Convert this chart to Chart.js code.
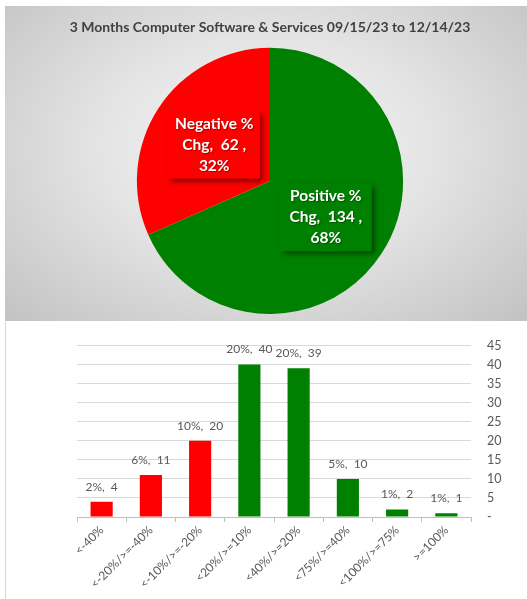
<!DOCTYPE html>
<html>
<head>
<meta charset="utf-8">
<script src="https://cdn.jsdelivr.net/npm/chart.js@4"></script>
<style>
  body { margin: 0; background: #ffffff; }
  #wrap { position: relative; width: 527px; height: 599px; overflow: hidden; }
  #top {
    position: absolute; left: 5px; top: 6px; width: 522px; height: 315px;
    background: radial-gradient(ellipse at 50% 45%, #f6f6f6 0%, #e4e4e4 45%, #c2c2c2 100%);
  }
  #bottom {
    position: absolute; left: 5px; top: 322px; width: 522px; height: 277px;
    background: #ffffff; border-left: 1px solid #d6d6d6; box-sizing: border-box;
  }
  canvas { display: block; }
</style>
</head>
<body>
<div id="wrap">
  <div id="top"><canvas id="torta" width="522" height="315"></canvas></div>
  <div id="bottom"><canvas id="barre" width="521" height="277"></canvas></div>
</div>
<script>
// dati della torta
const titolo = "3 Months Computer Software & Services 09/15/23 to 12/14/23";
const etichetteTorta = ["Positive % Chg", "Negative % Chg"];
const valoriTorta = [134, 62];
const coloriTorta = ["#008000", "#ff0000"];

// dati dell'istogramma
const categorie = ["<-40%", "<-20%/>=-40%", "<-10%/>=-20%", "<20%/>=10%", "<40%/>=20%", "<75%/>=40%", "<100%/>=75%", ">=100%"];
const conteggi = [4, 11, 20, 40, 39, 10, 2, 1];
const percentuali = [2, 6, 10, 20, 20, 5, 1, 1];
const coloriBarre = ["#ff0000", "#ff0000", "#ff0000", "#008000", "#008000", "#008000", "#008000", "#008000"];

const FONT = "Lato, Calibri, 'Open Sans', sans-serif";

// etichette nelle fette con riquadro ombreggiato
const etichetteFette = {
  id: "etichetteFette",
  afterDatasetsDraw(chart) {
    let ctx = chart.ctx,
      meta = chart.getDatasetMeta(0),
      totale = valoriTorta.reduce((a, b) => a + b, 0);
    meta.data.forEach((arc, i) => {
      let p = arc.getCenterPoint(),
        perc = Math.round((valoriTorta[i] / totale) * 100),
        parole = etichetteTorta[i].split(" "),
        righe = [parole[0] + " " + parole[1], parole[2] + ",  " + valoriTorta[i] + " ,", perc + "%"],
        w = 92, h = 68;
      ctx.save();
      ctx.shadowColor = "rgba(0,0,0,0.5)";
      ctx.shadowOffsetX = 3;
      ctx.shadowOffsetY = 3;
      ctx.shadowBlur = 5;
      ctx.fillStyle = coloriTorta[i];
      ctx.fillRect(p.x - w / 2, p.y - h / 2, w, h);
      ctx.restore();
      ctx.save();
      ctx.fillStyle = "#ffffff";
      ctx.font = "bold 15.5px " + FONT;
      ctx.textAlign = "center";
      ctx.textBaseline = "middle";
      ctx.shadowColor = "rgba(0,0,0,0.35)";
      ctx.shadowOffsetX = 1;
      ctx.shadowOffsetY = 1;
      ctx.shadowBlur = 1;
      righe.forEach((r, k) => ctx.fillText(r, p.x, p.y - 21 + k * 21));
      ctx.restore();
    });
  },
};

new Chart(document.getElementById("torta"), {
  type: "pie",
  data: {
    labels: etichetteTorta,
    datasets: [{ data: valoriTorta, backgroundColor: coloriTorta, borderWidth: 0 }],
  },
  options: {
    responsive: false,
    animation: false,
    layout: { padding: { left: 8, bottom: 7 } },
    plugins: {
      legend: { display: false },
      tooltip: { enabled: false },
      title: {
        display: true,
        text: titolo,
        color: "#404040",
        font: { family: FONT, size: 14, weight: "bold" },
        padding: { top: 13, bottom: 12 },
      },
    },
  },
  plugins: [etichetteFette],
});

// etichette sopra le barre
const etichetteBarre = {
  id: "etichetteBarre",
  afterDatasetsDraw(chart) {
    let ctx = chart.ctx,
      meta = chart.getDatasetMeta(0);
    ctx.save();
    ctx.fillStyle = "#595959";
    ctx.font = "12px " + FONT;
    ctx.textAlign = "center";
    ctx.textBaseline = "middle";
    meta.data.forEach((bar, i) => {
      ctx.fillText(percentuali[i] + "%,  " + conteggi[i], bar.x, bar.y - 15);
    });
    ctx.restore();
  },
};

new Chart(document.getElementById("barre"), {
  type: "bar",
  data: {
    labels: categorie,
    datasets: [{
      data: conteggi,
      backgroundColor: coloriBarre,
      barPercentage: 0.45,
      categoryPercentage: 1,
    }],
  },
  options: {
    responsive: false,
    animation: false,
    layout: { padding: { left: 71, top: 12, right: 0, bottom: 0 } },
    plugins: { legend: { display: false }, tooltip: { enabled: false } },
    scales: {
      x: {
        grid: { display: true, drawOnChartArea: false, drawTicks: true, tickLength: 5, color: "#bfbfbf" },
        border: { color: "#bfbfbf" },
        ticks: {
          color: "#595959",
          font: { family: FONT, size: 12 },
          minRotation: 45,
          maxRotation: 45,
          padding: 1,
        },
        afterFit(scale) { scale.height = 82; },
      },
      y: {
        position: "right",
        min: 0,
        max: 45,
        grid: { color: "#d9d9d9", drawTicks: false },
        border: { display: false },
        ticks: {
          stepSize: 5,
          color: "#595959",
          font: { family: FONT, size: 12.5 },
          padding: 16,
          callback: (v) => (v === 0 ? "-" : v),
        },
        afterFit(scale) { scale.width = 56; },
      },
    },
  },
  plugins: [etichetteBarre],
});
</script>
</body>
</html>
